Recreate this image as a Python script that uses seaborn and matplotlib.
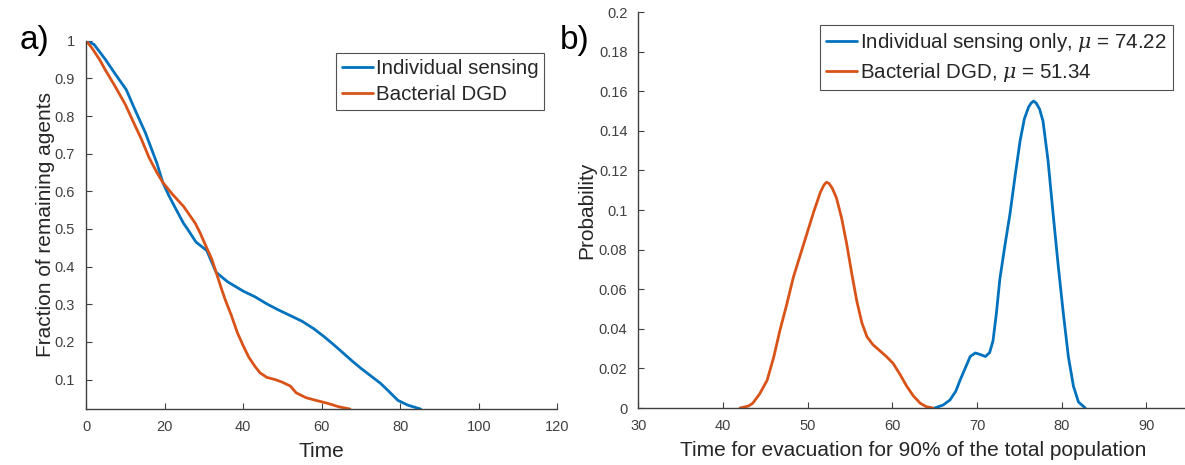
"""
Evacuation comparison - individual sensing vs bacterial DGD
"""
import numpy as np
import pandas as pd
import matplotlib
matplotlib.use("Agg")
import matplotlib.pyplot as plt
import seaborn as sns

# ── Data ──────────────────────────────────────────────────────────────────────

# a) fraction of remaining agents over time
time_ind = [0, 2, 4.9, 7.5, 10.2, 12.5, 15.1, 18, 19.5, 21, 22.5, 24.8, 25.8,
            28, 30.7, 33.1, 36, 40, 43, 46.2, 49, 52, 55, 58, 60.5, 62.8,
            65, 67.7, 70, 72.5, 75, 77, 79.4, 82, 85.2]
frac_ind = [1.0, 0.99, 0.95, 0.91, 0.87, 0.815, 0.755, 0.675, 0.624, 0.59,
            0.56, 0.515, 0.5, 0.465, 0.443, 0.385, 0.36, 0.335, 0.32, 0.30,
            0.285, 0.27, 0.255, 0.235, 0.215, 0.195, 0.175, 0.15, 0.13,
            0.11, 0.09, 0.07, 0.045, 0.032, 0.022]

time_dgd = [0, 1.5, 3.4, 5, 7.3, 10, 12.2, 14, 16, 18, 19.5, 21.9, 24.8, 27.8,
            29, 30.7, 32, 33.1, 34.5, 35.5, 37, 38.5, 40, 41.4, 43, 44.3,
            46, 48.2, 50, 52, 53.5, 56, 58.5, 60.8, 62.5, 64.3, 67.2]
frac_dgd = [1.0, 0.98, 0.95, 0.92, 0.88, 0.83, 0.78, 0.74, 0.69, 0.65,
            0.624, 0.593, 0.56, 0.515, 0.49, 0.45, 0.42, 0.385, 0.34, 0.31,
            0.27, 0.225, 0.19, 0.16, 0.135, 0.118, 0.106, 0.1, 0.093, 0.083,
            0.065, 0.052, 0.045, 0.039, 0.034, 0.028, 0.022]

# b) distribution of the time to evacuate 90 % of the population
t90_ind = [65, 66, 66.8, 67.5, 68, 68.6, 69.2, 69.8, 70.4, 71, 71.5, 71.9,
           72.3, 72.7, 73.3, 73.9, 74.5, 75.1, 75.6, 76.1, 76.4, 76.7, 77,
           77.4, 77.8, 78.4, 79, 79.6, 80.2, 80.8, 81.4, 82, 82.8]
p_ind = [0.0, 0.0015, 0.004, 0.0085, 0.014, 0.02, 0.026, 0.0278, 0.027,
         0.026, 0.028, 0.034, 0.048, 0.065, 0.082, 0.098, 0.117, 0.135,
         0.146, 0.152, 0.154, 0.155, 0.154, 0.151, 0.145, 0.125, 0.098,
         0.072, 0.048, 0.026, 0.011, 0.003, 0.0]

t90_dgd = [42, 43, 43.5, 44.3, 45.2, 46, 46.7, 47.5, 48.3, 49.1, 49.9, 50.7,
           51.5, 51.9, 52.2, 52.5, 52.9, 53.4, 54, 54.6, 55.2, 55.8, 56.4,
           57, 57.7, 58.5, 59.3, 60.1, 60.9, 61.7, 62.5, 63.3, 64, 64.8]
p_dgd = [0.0, 0.001, 0.0024, 0.007, 0.014, 0.026, 0.039, 0.052, 0.066, 0.077,
         0.088, 0.099, 0.109, 0.1125, 0.114, 0.1135, 0.111, 0.106, 0.096,
         0.083, 0.068, 0.054, 0.043, 0.036, 0.032, 0.029, 0.026, 0.0225,
         0.017, 0.011, 0.006, 0.0024, 0.0007, 0.0]

mu_ind = 74.22
mu_dgd = 51.34

BLUE = "#0072BD"
ORANGE = "#D95319"
GREY = "#404040"

# ── Style ─────────────────────────────────────────────────────────────────────

sns.set_style("white")
plt.rcParams["font.family"] = ["Liberation Sans", "DejaVu Sans"]
plt.rcParams["mathtext.fontset"] = "dejavuserif"
plt.rcParams.update({
    "xtick.direction": "in", "ytick.direction": "in",
    "xtick.major.size": 4, "ytick.major.size": 4,
    "xtick.major.width": 0.8, "ytick.major.width": 0.8,
    "xtick.color": GREY, "ytick.color": GREY,
    "xtick.labelsize": 10.5, "ytick.labelsize": 10.5,
    "axes.edgecolor": GREY, "axes.linewidth": 1.0,
})


def style_axis(ax):
    sns.despine(ax=ax)
    ax.tick_params(bottom=True, left=True, pad=8)
    for s in ("left", "bottom"):
        ax.spines[s].set_color(GREY)


def style_legend(leg):
    leg.get_frame().set_edgecolor("#262626")
    leg.get_frame().set_linewidth(0.8)


LEG_KW = dict(loc="upper right", fontsize=14.8, frameon=True, fancybox=False,
              handlelength=1.5, handletextpad=0.15, borderpad=0.3,
              labelspacing=0.35, borderaxespad=0)

fig = plt.figure(figsize=(11.85, 4.65), dpi=100)

# ── a) ────────────────────────────────────────────────────────────────────────

ax1 = fig.add_axes([86.2 / 1185, 56 / 465, 471 / 1185, 368.3 / 465])
sns.lineplot(x=time_ind, y=frac_ind, ax=ax1, color=BLUE, lw=2,
             label="Individual sensing")
sns.lineplot(x=time_dgd, y=frac_dgd, ax=ax1, color=ORANGE, lw=2,
             label="Bacterial DGD")
ax1.set_xlim(0, 120)
ax1.set_ylim(0.022, 1)
ax1.set_xticks(np.arange(0, 121, 20))
ax1.set_yticks(np.round(np.arange(0.1, 1.01, 0.1), 1))
ax1.set_yticklabels(["0.1", "0.2", "0.3", "0.4", "0.5", "0.6", "0.7",
                     "0.8", "0.9", "1"])
ax1.set_xlabel("Time", fontsize=15, color="#262626", labelpad=6)
ax1.set_ylabel("Fraction of remaining agents", fontsize=15, color="#262626",
               labelpad=0)
style_axis(ax1)
leg1 = ax1.legend(bbox_to_anchor=(0.973, 0.967), **LEG_KW)
style_legend(leg1)

# ── b) ────────────────────────────────────────────────────────────────────────

ax2 = fig.add_axes([638.5 / 1185, 57 / 465, 550 / 1185, 396 / 465])
sns.lineplot(x=t90_ind, y=p_ind, ax=ax2, color=BLUE, lw=2,
             label=f"Individual sensing only, $\\mu$ = {mu_ind:.2f}")
sns.lineplot(x=t90_dgd, y=p_dgd, ax=ax2, color=ORANGE, lw=2,
             label=f"Bacterial DGD, $\\mu$ = {mu_dgd:.2f}")
ax2.set_xlim(30, 95)
ax2.set_ylim(0, 0.2)
ax2.set_xticks(np.arange(30, 91, 10))
ax2.set_yticks(np.round(np.arange(0, 0.201, 0.02), 2))
ax2.set_yticklabels(["0", "0.02", "0.04", "0.06", "0.08", "0.1", "0.12",
                     "0.14", "0.16", "0.18", "0.2"])
ax2.set_xlabel("Time for evacuation for 90% of the total population",
               fontsize=15, color="#262626", labelpad=6)
ax2.set_ylabel("Probability", fontsize=15, color="#262626", labelpad=2)
style_axis(ax2)
leg2 = ax2.legend(bbox_to_anchor=(0.972, 0.9675), **LEG_KW)
style_legend(leg2)

# panel letters
fig.text(20 / 1185, 1 - 40 / 465, "a)", fontsize=24, va="center",
         ha="left", color="black")
fig.text(560 / 1185, 1 - 40 / 465, "b)", fontsize=24, va="center",
         ha="left", color="black")

fig.savefig("out.png", dpi=100)
